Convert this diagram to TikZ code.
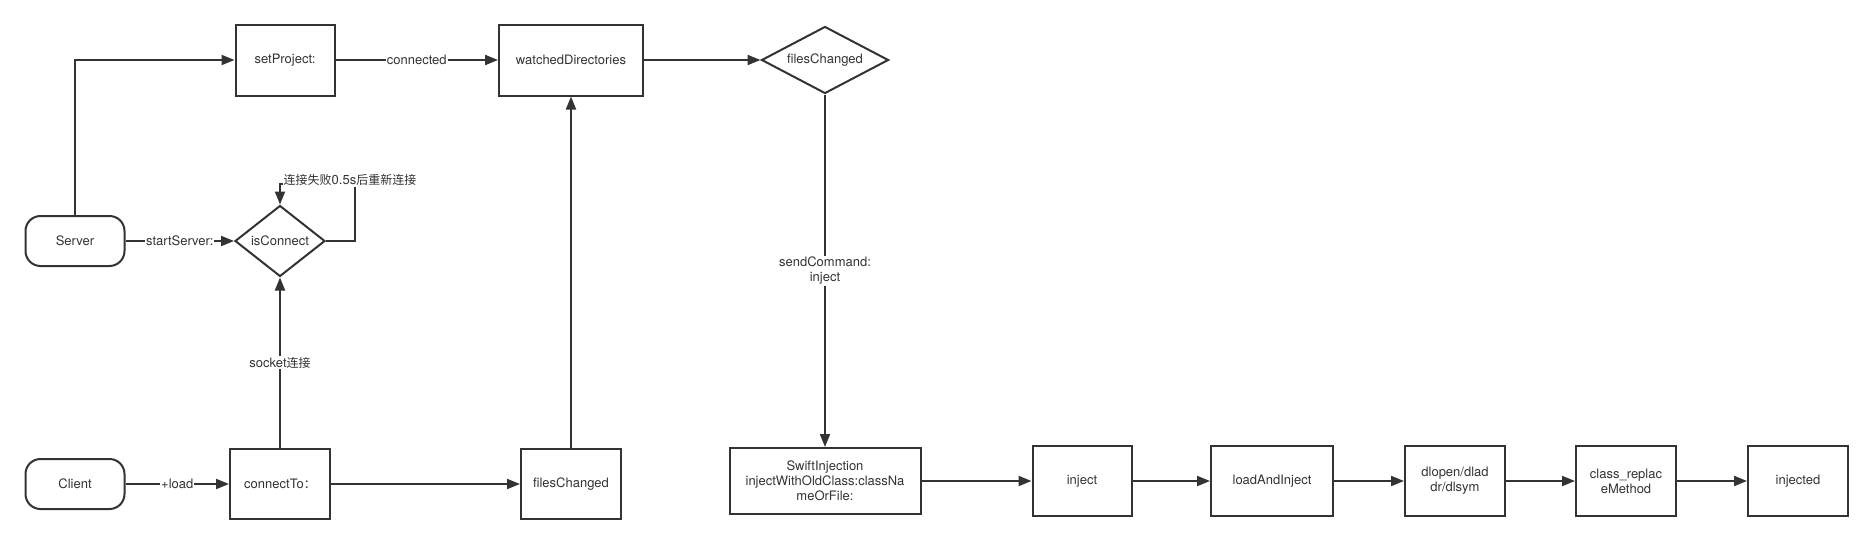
\documentclass[tikz,border=0pt]{standalone}
\usepackage{fontspec}
\setmainfont{TeX Gyre Heros}
\newfontfamily\cjk{Noto Sans CJK SC}
\newcommand{\zh}[1]{{\cjk\fontsize{12}{15}\selectfont #1}}
\usetikzlibrary{arrows.meta,shapes.geometric}
\definecolor{lc}{HTML}{333333}
\definecolor{tc}{HTML}{333333}
\begin{document}
\begin{tikzpicture}[x=1pt,y=-1pt,
  every node/.style={font=\fontsize{13}{15}\selectfont, text=tc},
  box/.style={draw=lc, line width=2pt, align=center, inner sep=1pt},
  term/.style={box, rounded corners=15pt, minimum width=99pt, minimum height=50pt},
  dia/.style={draw=lc, line width=2pt, diamond, aspect=1.6, inner sep=0pt},
  arr/.style={draw=lc, line width=2pt, -{Triangle[length=13pt,width=10pt]}},
  lbl/.style={fill=white, inner sep=1pt, align=center}]
\useasboundingbox (0,0) rectangle (1873,544);
\fill[white] (0,0) rectangle (1873,544);

\node[term] (server) at (75,241) {Server};
\node[term] (client) at (75,484) {Client};
\node[box, minimum width=99pt, minimum height=71pt] (setp) at (285,60) {setProject:};
\node[box, minimum width=144pt, minimum height=71pt] (watch) at (571,60) {watchedDirectories};
\node[dia, minimum width=127pt, minimum height=67pt] (fcd) at (825,60) {filesChanged};
\node[dia, minimum width=90pt, minimum height=71pt] (isc) at (280,241) {isConnect};
\node[box, minimum width=100pt, minimum height=70pt] (conn) at (280,484) {connectTo\zh{：}};
\node[box, minimum width=191pt, minimum height=66pt] (swift) at (825,481) {SwiftInjection\\injectWithOldClass:classNa\\meOrFile:};
\node[box, minimum width=100pt, minimum height=70pt] (fcb) at (571,484) {filesChanged};
\node[box, minimum width=99pt, minimum height=70pt] (inj) at (1082,481) {inject};
\node[box, minimum width=122pt, minimum height=70pt] (load) at (1272,481) {loadAndInject};
\node[box, minimum width=100pt, minimum height=70pt] (dl) at (1455,481) {dlopen/dlad\\dr/dlsym};
\node[box, minimum width=100pt, minimum height=70pt] (crm) at (1626,481) {class\_replac\\eMethod};
\node[box, minimum width=100pt, minimum height=70pt] (done) at (1798,481) {injected};

\draw[arr] (server.north) |- (setp.west);
\draw[arr] (setp.east) -- node[lbl] (lconn) {connected} (watch.west);
\draw[arr] (watch.east) -- (fcd.west);
\draw[arr] (fcd.south) -- node[lbl] (lsend) {sendCommand:\\inject} (swift.north);
\draw[arr] (server.east) -- node[lbl] (lstart) {startServer:} (isc.west);
\coordinate (l1) at (355,241);
\coordinate (l2) at (355,184);
\coordinate (l3) at (280,184);
\draw[arr] (isc.east) -- (l1) -- (l2) -- (l3) -- (isc.north);
\node[lbl] (lretry) at (350,180) {\zh{连接失败}0.5s\zh{后重新连接}};
\draw[arr] (conn.north) -- node[lbl] (lsock) {socket\zh{连接}} (isc.south);
\draw[arr] (client.east) -- node[lbl] (lload) {+load} (conn.west);
\draw[arr] (conn.east) -- (fcb.west);
\draw[arr] (fcb.north) -- (watch.south);
\draw[arr] (swift.east) -- (inj.west);
\draw[arr] (inj.east) -- (load.west);
\draw[arr] (load.east) -- (dl.west);
\draw[arr] (dl.east) -- (crm.west);
\draw[arr] (crm.east) -- (done.west);
\end{tikzpicture}
\end{document}
